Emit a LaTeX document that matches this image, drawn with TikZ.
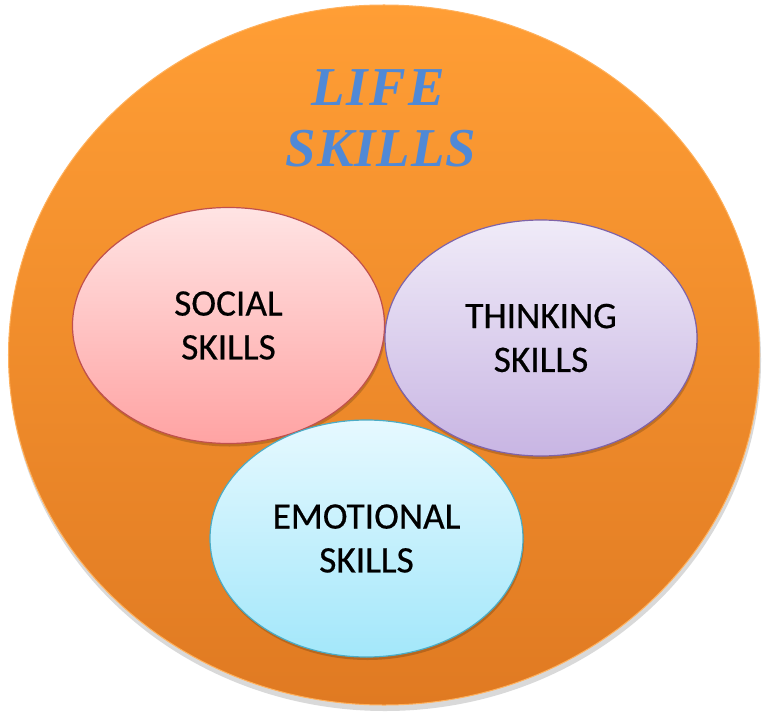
\documentclass[tikz,border=0pt]{standalone}
\usepackage{fontspec}
\setmainfont{Carlito}
\newfontfamily\skillfont{Carlito}[FakeBold=0.5]
\newfontfamily\titlefont{Liberation Serif}
\usetikzlibrary{shapes.geometric}
\definecolor{orangeTop}{HTML}{FF9E35}
\definecolor{orangeBot}{HTML}{E07A22}
\definecolor{socTop}{HTML}{FFE4E4}
\definecolor{socBot}{HTML}{FFA3A3}
\definecolor{socLine}{HTML}{C0504D}
\definecolor{thTop}{HTML}{F0EBF8}
\definecolor{thBot}{HTML}{C8B5E3}
\definecolor{thLine}{HTML}{7F63A8}
\definecolor{emTop}{HTML}{E6F9FF}
\definecolor{emBot}{HTML}{A3E7FA}
\definecolor{emLine}{HTML}{4BACC6}
\definecolor{titleBlue}{HTML}{5089D6}
\tikzset{
  skillbox/.style={ellipse, inner sep=0pt, minimum width=312bp, minimum height=236bp,
    line width=1.2bp, align=center, text=black,
    font=\skillfont\fontsize{37.5}{44}\selectfont},
  shadowbox/.style={ellipse, inner sep=0pt, fill=black, opacity=0.18},
  titletext/.style={anchor=base, text=titleBlue, inner sep=0pt,
    font=\titlefont\bfseries\itshape\fontsize{55}{60}\selectfont}
}
\begin{document}
\begin{tikzpicture}[x=1bp,y=-1bp]
\useasboundingbox (0,0) rectangle (769,718);
% outer circle shadow
\node[shadowbox, minimum width=752bp, minimum height=702bp, opacity=0.15] (lifeshadow) at (385,360) {};
\node[ellipse, inner sep=0pt, minimum width=751bp, minimum height=700bp,
  top color=orangeTop, bottom color=orangeBot, draw=orangeTop!80!white, line width=1bp] (life) at (384,355) {};
% title
\node[titletext] (lifeword) at (378,106) {L\kern2bp I\kern2bp F\kern2bp E};
\node[titletext] (skillsword) at (381,166) {S\kern1bp K\kern1bp I\kern1bp L\kern1bp L\kern1bp S};
% shadows of inner ellipses
\node[shadowbox, minimum width=312bp, minimum height=236bp] (socshadow) at (229.5,328.5) {};
\node[shadowbox, minimum width=312bp, minimum height=236bp] (thshadow) at (542,341) {};
% social
\node[skillbox, top color=socTop, bottom color=socBot, draw=socLine] (social) at (228.5,325.5) {SOCIAL\\SKILLS};
% thinking
\node[skillbox, top color=thTop, bottom color=thBot, draw=thLine] (thinking) at (541,338) {THINKING\\SKILLS};
% emotional
\node[shadowbox, minimum width=313bp, minimum height=237bp] (emshadow) at (367.5,541.5) {};
\node[skillbox, minimum width=313bp, minimum height=237bp, top color=emTop, bottom color=emBot, draw=emLine] (emotional) at (366.5,538.5) {EMOTIONAL\\SKILLS};
\end{tikzpicture}
\end{document}
